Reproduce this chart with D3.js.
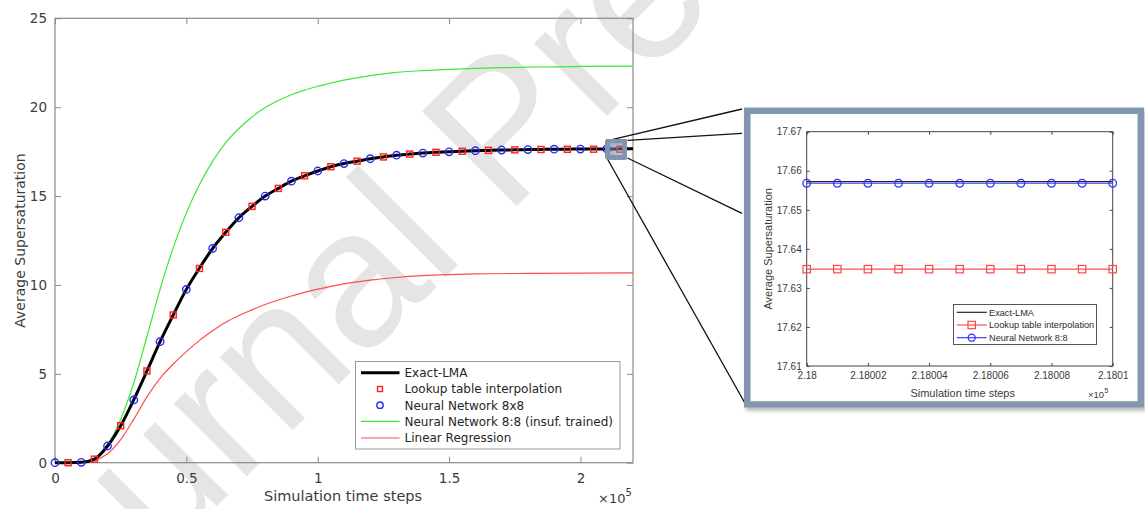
<!DOCTYPE html>
<html>
<head>
<meta charset="utf-8">
<script src="https://cdn.jsdelivr.net/npm/d3@7"></script>
<style>
  html, body { margin: 0; padding: 0; background: #fff; }
  svg { display: block; }
</style>
</head>
<body>
<div id="chart"></div>
<script>
// ---- data (x in units of 1e5 simulation time steps) ----
const exactX = [0, 0.05, 0.1, 0.15, 0.2, 0.25, 0.3, 0.35, 0.4, 0.45, 0.5, 0.55, 0.6, 0.65, 0.7, 0.75, 0.8, 0.85, 0.9, 0.95,
                1.0, 1.05, 1.1, 1.15, 1.2, 1.25, 1.3, 1.35, 1.4, 1.45, 1.5, 1.55, 1.6, 1.65, 1.7, 1.75, 1.8, 1.85, 1.9, 1.95,
                2.0, 2.05, 2.1, 2.15, 2.2];
const exactY = [0, 0, 0.02, 0.2, 0.94, 2.08, 3.55, 5.16, 6.81, 8.31, 9.75, 10.95, 12.05, 12.96, 13.78, 14.42, 15.0, 15.43, 15.84, 16.14,
                16.41, 16.65, 16.83, 16.96, 17.1, 17.2, 17.3, 17.36, 17.42, 17.46, 17.49, 17.52, 17.55, 17.57, 17.59, 17.6, 17.615, 17.625, 17.635, 17.64,
                17.645, 17.65, 17.653, 17.655, 17.657];

const lookupX = [0.05, 0.15, 0.25, 0.35, 0.45, 0.55, 0.65, 0.75, 0.85, 0.95, 1.05, 1.15, 1.25, 1.35, 1.45, 1.55, 1.65, 1.75, 1.85, 1.95, 2.05, 2.15];
const lookupY = [0, 0.2, 2.08, 5.16, 8.31, 10.93, 12.96, 14.42, 15.43, 16.14, 16.65, 16.96, 17.2, 17.36, 17.46, 17.52, 17.57, 17.6, 17.62, 17.63, 17.635, 17.635];

const nnX = [0, 0.1, 0.2, 0.3, 0.4, 0.5, 0.6, 0.7, 0.8, 0.9, 1.0, 1.1, 1.2, 1.3, 1.4, 1.5, 1.6, 1.7, 1.8, 1.9, 2.0, 2.1];
const nnY = [0, 0.02, 0.94, 3.53, 6.81, 9.75, 12.05, 13.78, 15.0, 15.84, 16.41, 16.83, 17.1, 17.3, 17.42, 17.49, 17.55, 17.59, 17.615, 17.635, 17.645, 17.653];

const nnInsufX = [0, 0.05, 0.1, 0.15, 0.2, 0.25, 0.3, 0.35, 0.4, 0.45, 0.5, 0.55, 0.6, 0.65, 0.7, 0.75, 0.8, 0.85, 0.9, 0.95,
                  1.0, 1.1, 1.2, 1.3, 1.4, 1.5, 1.6, 1.7, 1.8, 1.9, 2.0, 2.2];
const nnInsufY = [0, 0, 0.02, 0.22, 1.0, 2.45, 4.5, 7.1, 9.75, 12.1, 14.05, 15.65, 16.95, 18.0, 18.8, 19.45, 19.98, 20.38, 20.7, 20.96,
                  21.17, 21.52, 21.78, 21.96, 22.06, 22.13, 22.18, 22.22, 22.25, 22.27, 22.29, 22.31];

const linRegX = [0, 0.05, 0.1, 0.15, 0.2, 0.25, 0.3, 0.35, 0.4, 0.45, 0.5, 0.55, 0.6, 0.65, 0.7, 0.75, 0.8, 0.85, 0.9, 0.95,
                 1.0, 1.05, 1.1, 1.2, 1.3, 1.4, 1.5, 1.6, 1.8, 2.0, 2.2];
const linRegY = [0, 0, 0.02, 0.12, 0.5, 1.3, 2.45, 3.7, 4.75, 5.55, 6.25, 6.88, 7.42, 7.9, 8.28, 8.6, 8.9, 9.15, 9.38, 9.58,
                 9.76, 9.92, 10.06, 10.27, 10.42, 10.52, 10.58, 10.62, 10.65, 10.67, 10.68];

const xTicks = [0, 0.5, 1, 1.5, 2];
const yTicks = [0, 5, 10, 15, 20, 25];

const legendLabels = ["Exact-LMA", "Lookup table interpolation", "Neural Network 8x8",
                      "Neural Network 8:8 (insuf. trained)", "Linear Regression"];

// zoomed inset (x in units of 1e5)
const insetX = [2.18, 2.18001, 2.18002, 2.18003, 2.18004, 2.18005, 2.18006, 2.18007, 2.18008, 2.18009, 2.1801];
const insetExact = [17.6572, 17.6572, 17.6572, 17.6572, 17.6572, 17.6572, 17.6572, 17.6572, 17.6572, 17.6572, 17.6572];
const insetLookup = [17.6348, 17.6348, 17.6348, 17.6348, 17.6348, 17.6348, 17.6348, 17.6348, 17.6348, 17.6348, 17.6348];
const insetNN = [17.6568, 17.6568, 17.6568, 17.6568, 17.6568, 17.6568, 17.6568, 17.6568, 17.6568, 17.6568, 17.6568];
const insetXTicks = [2.18, 2.18002, 2.18004, 2.18006, 2.18008, 2.1801];
const insetXTickLabels = ["2.18", "2.18002", "2.18004", "2.18006", "2.18008", "2.1801"];
const insetYTicks = [17.61, 17.62, 17.63, 17.64, 17.65, 17.66, 17.67];
const insetLegendLabels = ["Exact-LMA", "Lookup table interpolation", "Neural Network 8:8"];

const zipXY = (xs, ys) => xs.map((x, i) => [x, ys[i]]);

// ---- svg ----
const width = 1145, height = 509;
const svg = d3.select("#chart").append("svg")
    .attr("width", width)
    .attr("height", height);

const defs = svg.append("defs");
const shadow = defs.append("filter").attr("id", "shadow")
    .attr("x", "-10%").attr("y", "-10%").attr("width", "120%").attr("height", "125%");
shadow.append("feDropShadow")
    .attr("dx", 2).attr("dy", 3).attr("stdDeviation", 2)
    .attr("flood-color", "#000").attr("flood-opacity", 0.3);

// watermark
svg.append("text")
    .attr("transform", "translate(15,708) rotate(-45)")
    .style("font-family", "'Liberation Sans', Arial, sans-serif")
    .style("font-size", "195px")
    .attr("fill", "#e5e5e5")
    .text("Journal Pre-proof");

// ---- main plot ----
const MAIN_FONT = "'DejaVu Sans', sans-serif";
const x = d3.scaleLinear().domain([0, 2.2]).range([55, 633]);
const y = d3.scaleLinear().domain([0, 25]).range([462.7, 18.3]);

const main = svg.append("g");
const axisColor = "#8a8a8a";
const textColor = "#3c3c3c";

function styleAxis(g, showLabels) {
    g.select(".domain").remove();
    g.selectAll(".tick line").attr("stroke", axisColor);
    g.selectAll(".tick text")
        .attr("fill", textColor)
        .style("font-family", MAIN_FONT)
        .style("font-size", "13.5px")
        .style("display", showLabels ? null : "none");
}

main.append("g").attr("transform", `translate(0,${y(0)})`)
    .call(d3.axisBottom(x).tickValues(xTicks).tickSize(-6).tickPadding(11).tickFormat(d3.format("")))
    .call(g => styleAxis(g, true));
main.append("g").attr("transform", `translate(0,${y(25)})`)
    .call(d3.axisTop(x).tickValues(xTicks).tickSize(-6))
    .call(g => styleAxis(g, false));
main.append("g").attr("transform", `translate(${x(0)},0)`)
    .call(d3.axisLeft(y).tickValues(yTicks).tickSize(-6).tickPadding(8))
    .call(g => styleAxis(g, true));
main.append("g").attr("transform", `translate(${x(2.2)},0)`)
    .call(d3.axisRight(y).tickValues(yTicks).tickSize(-6))
    .call(g => styleAxis(g, false));

main.append("rect")
    .attr("x", x(0)).attr("y", y(25))
    .attr("width", x(2.2) - x(0)).attr("height", y(0) - y(25))
    .attr("fill", "none").attr("stroke", axisColor).attr("stroke-width", 1.2);

// axis labels
main.append("text")
    .attr("x", (x(0) + x(2.2)) / 2 - 1).attr("y", 501)
    .attr("text-anchor", "middle")
    .attr("fill", textColor)
    .style("font-family", MAIN_FONT).style("font-size", "14.5px")
    .text("Simulation time steps");
main.append("text")
    .attr("transform", `translate(25,${(y(0) + y(25)) / 2}) rotate(-90)`)
    .attr("text-anchor", "middle")
    .attr("fill", textColor)
    .style("font-family", MAIN_FONT).style("font-size", "14px")
    .text("Average Supersaturation");
const mult = main.append("text")
    .attr("x", 598).attr("y", 503)
    .attr("fill", textColor)
    .style("font-family", MAIN_FONT).style("font-size", "13px");
mult.append("tspan").text("×10");
mult.append("tspan").attr("dy", -7).style("font-size", "10px").text("5");

// curves
const line = d3.line().x(d => x(d[0])).y(d => y(d[1])).curve(d3.curveMonotoneX);

main.append("path").datum(zipXY(nnInsufX, nnInsufY))
    .attr("d", line).attr("fill", "none").attr("stroke", "#3de83d").attr("stroke-width", 1.2);
main.append("path").datum(zipXY(linRegX, linRegY))
    .attr("d", line).attr("fill", "none").attr("stroke", "#ff4d4d").attr("stroke-width", 1.2);
main.append("path").datum(zipXY(exactX, exactY))
    .attr("d", line).attr("fill", "none").attr("stroke", "#000").attr("stroke-width", 3);

main.append("g").selectAll("rect")
    .data(zipXY(lookupX, lookupY))
    .join("rect")
    .attr("x", d => x(d[0]) - 3).attr("y", d => y(d[1]) - 3)
    .attr("width", 6).attr("height", 6)
    .attr("fill", "none").attr("stroke", "#ff2020").attr("stroke-width", 1.4);

main.append("g").selectAll("circle")
    .data(zipXY(nnX, nnY))
    .join("circle")
    .attr("cx", d => x(d[0])).attr("cy", d => y(d[1]))
    .attr("r", 3.7)
    .attr("fill", "none").attr("stroke", "#2a2aff").attr("stroke-width", 1.4);

// legend
const legend = main.append("g");
legend.append("rect")
    .attr("x", 355.5).attr("y", 361.5).attr("width", 264.5).attr("height", 87.5)
    .attr("fill", "#fff").attr("stroke", "#9a9a9a").attr("stroke-width", 1);
const rowY = [372.7, 389, 405.2, 421.4, 438];
legendLabels.forEach((label, i) => {
    const cy = rowY[i];
    if (i === 0 || i === 3 || i === 4) {
        legend.append("line")
            .attr("x1", 361).attr("x2", 399.5).attr("y1", cy).attr("y2", cy)
            .attr("stroke", ["#000", null, null, "#3de83d", "#ff4d4d"][i])
            .attr("stroke-width", i === 0 ? 3 : 1.2);
    } else if (i === 1) {
        legend.append("rect")
            .attr("x", 377.5).attr("y", cy - 2.5).attr("width", 5).attr("height", 5)
            .attr("fill", "none").attr("stroke", "#ff2020").attr("stroke-width", 1.4);
    } else {
        legend.append("circle")
            .attr("cx", 380).attr("cy", cy).attr("r", 3.2)
            .attr("fill", "none").attr("stroke", "#2a2aff").attr("stroke-width", 1.4);
    }
    legend.append("text")
        .attr("x", 404.5).attr("y", cy + 4.3)
        .attr("fill", "#262626")
        .style("font-family", MAIN_FONT).style("font-size", "12px")
        .text(label);
});

// magnifier box over the curve end
const boxX = [2.093, 2.179], boxY = [17.03, 18.25];
const bx0 = x(boxX[0]), bx1 = x(boxX[1]), by0 = y(boxY[1]), by1 = y(boxY[0]);

// connector lines
const connectors = [
    [[bx0 + 8, by0 + 1], [742, 109]],
    [[bx1, by0 + 2], [742, 133.3]],
    [[bx1, by1 - 2], [742, 213.3]],
    [[bx0 + 2, by1 - 2], [745, 403.3]]
];
svg.append("g").selectAll("line")
    .data(connectors)
    .join("line")
    .attr("x1", d => d[0][0]).attr("y1", d => d[0][1])
    .attr("x2", d => d[1][0]).attr("y2", d => d[1][1])
    .attr("stroke", "#111").attr("stroke-width", 1.3);

svg.append("rect")
    .attr("x", bx0 + 2.5).attr("y", by0 + 2.5)
    .attr("width", bx1 - bx0 - 5).attr("height", by1 - by0 - 5)
    .attr("rx", 1.5)
    .attr("fill", "rgba(130,148,175,0.45)")
    .attr("stroke", "#8295b0").attr("stroke-width", 5)
    .attr("filter", "url(#shadow)");

// ---- inset ----
const INSET_FONT = "'Liberation Sans', Arial, sans-serif";
const inset = svg.append("g");
inset.append("rect")
    .attr("x", 747.3).attr("y", 110.8).attr("width", 393.5).attr("height", 293.5)
    .attr("fill", "#fff").attr("stroke", "#8396b0").attr("stroke-width", 6.5)
    .attr("filter", "url(#shadow)");
inset.append("line")
    .attr("x1", 750.5).attr("x2", 1137.5).attr("y1", 401.7).attr("y2", 401.7)
    .attr("stroke", "#a8a8a8").attr("stroke-width", 1);

const ix = d3.scaleLinear().domain([2.18, 2.1801]).range([806.7, 1112.7]);
const iy = d3.scaleLinear().domain([17.61, 17.67]).range([366, 131.7]);
const insetAxisColor = "#444";
const insetText = "#3a3a3a";

function styleInsetAxis(g, showLabels) {
    g.select(".domain").remove();
    g.selectAll(".tick line").attr("stroke", insetAxisColor);
    g.selectAll(".tick text")
        .attr("fill", insetText)
        .style("font-family", INSET_FONT)
        .style("font-size", "10px")
        .style("display", showLabels ? null : "none");
}

inset.append("g").attr("transform", `translate(0,${iy(17.61)})`)
    .call(d3.axisBottom(ix).tickValues(insetXTicks).tickSize(-3).tickPadding(6)
        .tickFormat((d, i) => insetXTickLabels[i]))
    .call(g => styleInsetAxis(g, true));
inset.append("g").attr("transform", `translate(0,${iy(17.67)})`)
    .call(d3.axisTop(ix).tickValues(insetXTicks).tickSize(-3))
    .call(g => styleInsetAxis(g, false));
inset.append("g").attr("transform", `translate(${ix(2.18)},0)`)
    .call(d3.axisLeft(iy).tickValues(insetYTicks).tickSize(-3).tickPadding(5).tickFormat(d3.format(".2f")))
    .call(g => styleInsetAxis(g, true));
inset.append("g").attr("transform", `translate(${ix(2.1801)},0)`)
    .call(d3.axisRight(iy).tickValues(insetYTicks).tickSize(-3))
    .call(g => styleInsetAxis(g, false));
inset.append("rect")
    .attr("x", ix(2.18)).attr("y", iy(17.67))
    .attr("width", ix(2.1801) - ix(2.18)).attr("height", iy(17.61) - iy(17.67))
    .attr("fill", "none").attr("stroke", insetAxisColor).attr("stroke-width", 1);

inset.append("text")
    .attr("x", (ix(2.18) + ix(2.1801)) / 2 + 3).attr("y", 397)
    .attr("text-anchor", "middle").attr("fill", insetText)
    .style("font-family", INSET_FONT).style("font-size", "11px")
    .text("Simulation time steps");
inset.append("text")
    .attr("transform", `translate(771.5,${(iy(17.61) + iy(17.67)) / 2}) rotate(-90)`)
    .attr("text-anchor", "middle").attr("fill", insetText)
    .style("font-family", INSET_FONT).style("font-size", "11px")
    .text("Average Supersaturation");
const imult = inset.append("text")
    .attr("x", 1088).attr("y", 398)
    .attr("fill", insetText)
    .style("font-family", INSET_FONT).style("font-size", "9.5px");
imult.append("tspan").text("×10");
imult.append("tspan").attr("dy", -5).style("font-size", "7.5px").text("5");

const iline = d3.line().x(d => ix(d[0])).y(d => iy(d[1]));
inset.append("path").datum(zipXY(insetX, insetExact))
    .attr("d", iline).attr("fill", "none").attr("stroke", "#222").attr("stroke-width", 1.2);
inset.append("path").datum(zipXY(insetX, insetLookup))
    .attr("d", iline).attr("fill", "none").attr("stroke", "#ff5050").attr("stroke-width", 1.2);
inset.append("path").datum(zipXY(insetX, insetNN))
    .attr("d", iline).attr("fill", "none").attr("stroke", "#3a3aff").attr("stroke-width", 1.2);

inset.append("g").selectAll("rect")
    .data(zipXY(insetX, insetLookup))
    .join("rect")
    .attr("x", d => ix(d[0]) - 3.7).attr("y", d => iy(d[1]) - 3.7)
    .attr("width", 7.4).attr("height", 7.4)
    .attr("fill", "none").attr("stroke", "#ff4545").attr("stroke-width", 1.2);
inset.append("g").selectAll("circle")
    .data(zipXY(insetX, insetNN))
    .join("circle")
    .attr("cx", d => ix(d[0])).attr("cy", d => iy(d[1]))
    .attr("r", 3.8)
    .attr("fill", "none").attr("stroke", "#3030ff").attr("stroke-width", 1.3);

// inset legend
const ilegend = inset.append("g");
ilegend.append("rect")
    .attr("x", 953.5).attr("y", 304.5).attr("width", 143).attr("height", 40)
    .attr("fill", "#fff").attr("stroke", "#555").attr("stroke-width", 1);
const iRowY = [312.3, 325, 337.7];
const iColors = ["#222", "#ff5050", "#3a3aff"];
insetLegendLabels.forEach((label, i) => {
    const cy = iRowY[i];
    ilegend.append("line")
        .attr("x1", 956.7).attr("x2", 986.7).attr("y1", cy).attr("y2", cy)
        .attr("stroke", iColors[i]).attr("stroke-width", 1.2);
    if (i === 1) {
        ilegend.append("rect")
            .attr("x", 971.7 - 3.7).attr("y", cy - 3.7).attr("width", 7.4).attr("height", 7.4)
            .attr("fill", "none").attr("stroke", "#ff4545").attr("stroke-width", 1.2);
    } else if (i === 2) {
        ilegend.append("circle")
            .attr("cx", 971.7).attr("cy", cy).attr("r", 3.5)
            .attr("fill", "none").attr("stroke", "#3030ff").attr("stroke-width", 1.3);
    }
    ilegend.append("text")
        .attr("x", 989).attr("y", cy + 3.3)
        .attr("fill", "#2a2a2a")
        .style("font-family", INSET_FONT).style("font-size", "9.2px")
        .text(label);
});
</script>
</body>
</html>
